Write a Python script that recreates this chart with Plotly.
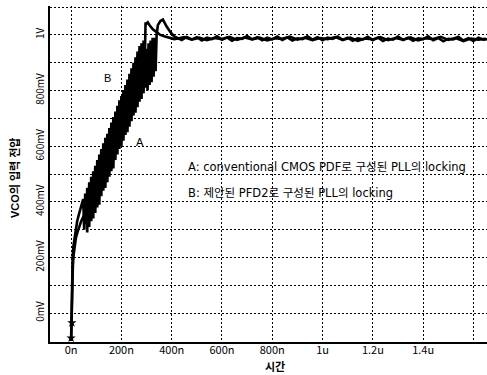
import plotly.graph_objects as go

# ---- data (time in ns, voltage in V) ----
tA_rise = [0, 1, 2, 3, 5, 7, 10, 14, 19, 25, 32, 40, 48, 56,
           60, 64, 68, 72, 76, 80, 84, 88, 92, 96, 100, 104, 108, 112,
           116, 120, 124, 128, 132, 136, 140, 144, 148, 152, 156, 160, 164, 168,
           172, 176, 180, 184, 188, 192, 196, 200, 204, 208, 212, 216, 220, 224,
           228, 232, 236, 240, 244, 248, 252, 256, 260, 264, 268, 272, 276, 280,
           284, 288, 292, 296, 300, 304, 308, 312, 316, 320, 324, 328, 332, 336,
           340, 345, 355, 365, 380, 395, 410]
vA_rise = [-0.10, -0.04, 0.03, 0.08, 0.13, 0.17, 0.21, 0.24, 0.27, 0.29, 0.31, 0.33, 0.345, 0.36,
           0.41, 0.29, 0.44, 0.31, 0.45, 0.33, 0.47, 0.34, 0.49, 0.36, 0.50, 0.38, 0.52, 0.39,
           0.55, 0.42, 0.56, 0.44, 0.58, 0.45, 0.60, 0.47, 0.62, 0.49, 0.63, 0.51, 0.65, 0.52,
           0.68, 0.55, 0.69, 0.57, 0.71, 0.59, 0.73, 0.60, 0.75, 0.62, 0.76, 0.64, 0.78, 0.65,
           0.80, 0.67, 0.82, 0.69, 0.83, 0.71, 0.85, 0.72, 0.87, 0.74, 0.88, 0.76, 0.90, 0.77,
           0.92, 0.79, 0.94, 0.81, 0.95, 0.80, 0.97, 0.82, 0.98, 0.83, 0.99, 0.85, 0.99, 0.87,
           1.00, 1.035, 1.05, 1.055, 1.03, 1.01, 0.995]
vA_flat = [0.990, 0.982, 0.993, 0.984, 0.992, 0.980, 0.990, 0.985, 0.995, 0.983,
           0.991, 0.979, 0.989, 0.986, 0.996, 0.984, 0.992, 0.981, 0.990, 0.984,
           0.994, 0.982, 0.991, 0.980, 0.988, 0.985, 0.995, 0.983, 0.992, 0.981,
           0.990, 0.986, 0.994, 0.982, 0.990, 0.979, 0.988, 0.984, 0.993, 0.981,
           0.991, 0.978, 0.987, 0.983, 0.994, 0.982, 0.990, 0.979, 0.988, 0.985,
           0.995, 0.981, 0.989, 0.977, 0.986, 0.984, 0.993, 0.980, 0.988, 0.978,
           0.990, 0.983, 0.985]
tA_flat = list(range(420, 1661, 20))

tB_rise = [0, 1, 2, 3, 4, 6, 9, 13, 18, 24, 31, 38, 44,
           48, 52, 56, 60, 64, 68, 72, 76, 80, 84, 88, 92, 96, 100,
           104, 108, 112, 116, 120, 124, 128, 132, 136, 140, 144, 148, 152, 156,
           160, 164, 168, 172, 176, 180, 184, 188, 192, 196, 200, 204, 208, 212,
           216, 220, 224, 228, 232, 236, 240, 244, 248, 252, 256, 260, 264, 268,
           272, 276, 280, 284, 288, 292, 296,
           300, 305, 312, 325, 340, 355, 370, 390, 410]
vB_rise = [-0.10, -0.02, 0.06, 0.12, 0.16, 0.20, 0.24, 0.27, 0.30, 0.33, 0.355, 0.375, 0.395,
           0.41, 0.30, 0.43, 0.32, 0.45, 0.34, 0.47, 0.36, 0.49, 0.37, 0.51, 0.39, 0.53, 0.41,
           0.55, 0.43, 0.57, 0.45, 0.59, 0.47, 0.61, 0.49, 0.63, 0.51, 0.645, 0.53, 0.665, 0.55,
           0.685, 0.57, 0.705, 0.59, 0.725, 0.60, 0.745, 0.62, 0.765, 0.64, 0.78, 0.66, 0.80, 0.68,
           0.82, 0.70, 0.84, 0.72, 0.86, 0.74, 0.88, 0.76, 0.90, 0.78, 0.92, 0.80, 0.94, 0.82,
           0.96, 0.83, 0.97, 0.84, 0.98, 0.86, 1.045,
           1.04, 1.045, 1.035, 1.02, 1.01, 1.00, 0.995, 0.99, 0.985]
vB_flat = [0.986, 0.992, 0.983, 0.990, 0.981, 0.989, 0.985, 0.993, 0.982, 0.991,
           0.984, 0.990, 0.980, 0.988, 0.986, 0.994, 0.983, 0.990, 0.981, 0.989,
           0.985, 0.992, 0.982, 0.990, 0.979, 0.987, 0.984, 0.992, 0.981, 0.989,
           0.983, 0.991, 0.980, 0.988, 0.985, 0.993, 0.982, 0.989, 0.978, 0.987,
           0.983, 0.986]
tB_flat = list(range(420, 1651, 30))

x_tickvals = [0, 200, 400, 600, 800, 1000, 1200, 1400, 1600]
x_ticktext = ["0n", "200n", "400n", "600n", "800n", "1u", "1.2u", "1.4u", ""]
y_tickvals = [0, 0.1, 0.2, 0.3, 0.4, 0.5, 0.6, 0.7, 0.8, 0.9, 1.0, 1.1]
y_ticktext = ["0mV", "", "200mV", "", "400mV", "", "600mV", "", "800mV", "", "1V", ""]

label_A = "A: conventional CMOS PDF로 구성된 PLL의 locking"
label_B = "B: 제안된 PFD2로 구성된 PLL의 locking"
x_title = "시간"
y_title = "VCO의 입력 전압"

FONT = "Liberation Sans Narrow, Noto Sans CJK KR, sans-serif"
TFONT = "Liberation Sans, Noto Sans CJK KR, sans-serif"
AFONT = "DejaVu Sans, Noto Sans CJK KR, sans-serif"

fig = go.Figure()
fig.add_trace(go.Scatter(x=tA_rise + tA_flat[:len(vA_flat)], y=vA_rise + vA_flat,
                         mode="lines", line=dict(color="black", width=2.6), name="A"))
fig.add_trace(go.Scatter(x=tB_rise + tB_flat[:len(vB_flat)], y=vB_rise + vB_flat,
                         mode="lines", line=dict(color="black", width=2.6), name="B"))
fig.add_trace(go.Scatter(x=[tA_rise[0], tB_rise[3]], y=[vA_rise[0] + 0.01, -0.035],
                         mode="markers", marker=dict(symbol="star", size=7, color="black"),
                         showlegend=False))

fig.add_annotation(x=457, y=0.525, text=label_A, showarrow=False, xanchor="left",
                   font=dict(family=AFONT, size=11.5, color="black"))
fig.add_annotation(x=457, y=0.432, text=label_B, showarrow=False, xanchor="left",
                   font=dict(family=AFONT, size=11.5, color="black"))
fig.add_annotation(x=143, y=0.845, text="B", showarrow=False,
                   font=dict(family=TFONT, size=11, color="black"))
fig.add_annotation(x=274, y=0.615, text="A", showarrow=False,
                   font=dict(family=TFONT, size=11, color="black"))
fig.add_annotation(xref="paper", yref="paper", x=0.515, y=-0.074, xanchor="center", yanchor="middle",
                   text="<b>" + x_title + "</b>",
                   showarrow=False, font=dict(family=TFONT, size=11, color="black"))
fig.add_annotation(xref="paper", yref="paper", x=-0.08, y=0.488, xanchor="center", yanchor="middle",
                   text="<b>" + y_title + "</b>",
                   textangle=-90, showarrow=False, font=dict(family=TFONT, size=11, color="black"))

fig.update_layout(
    width=487, height=375,
    margin=dict(l=50, r=0, t=6, b=33),
    paper_bgcolor="white", plot_bgcolor="white",
    showlegend=False,
    font=dict(family=FONT, size=10, color="black"),
    xaxis=dict(range=[-84, 1654], tickvals=x_tickvals, ticktext=x_ticktext, automargin=False,
               showgrid=True, gridcolor="black", griddash="2px,2px", gridwidth=1,
               showline=True, linecolor="black", linewidth=1.5, zeroline=False,
               ticks="", ticklabelstandoff=-3, tickfont=dict(family=FONT, size=11)),
    yaxis=dict(range=[-0.104, 1.104], tickvals=y_tickvals, ticktext=y_ticktext, automargin=False,
               showgrid=True, gridcolor="black", griddash="2px,2px", gridwidth=1,
               showline=True, linecolor="black", linewidth=1.5, zeroline=False,
               ticks="", tickangle=-90, tickfont=dict(family=FONT, size=10)),
)

fig.write_html("out.html", config={"displayModeBar": False},
               post_script="document.body.style.margin='0';")
